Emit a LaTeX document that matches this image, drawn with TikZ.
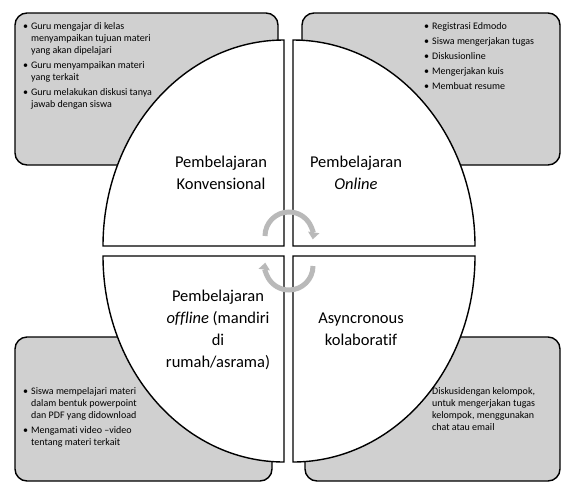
\documentclass[tikz,border=0pt]{standalone}
\usepackage{fontspec}
\setmainfont[Ligatures=NoCommon]{Carlito}
\usetikzlibrary{arrows.meta}
\definecolor{boxgray}{RGB}{208,208,208}
\definecolor{cycgray}{RGB}{185,185,185}
\begin{document}
\begin{tikzpicture}[x=1pt,y=-1pt,
  cornerbox/.style={draw=black,line width=1.4pt,fill=boxgray,rounded corners=12pt},
  quad/.style={draw=black,line width=1.4pt,fill=white},
  biglabel/.style={font=\fontsize{16.5}{22}\selectfont,align=center,inner sep=0pt},
  lst/.style={font=\fontsize{10}{12}\selectfont,inner sep=0pt,anchor=north west},
  cyc/.style={draw=cycgray,line width=5pt,-{Triangle[width=11pt,length=7pt]}}]
\useasboundingbox (0,0) rectangle (562,483);
\fill[white] (0,0) rectangle (562,483);
% corner boxes
\draw[cornerbox] (15,13) rectangle (278,165);
\draw[cornerbox] (302,13) rectangle (560,165);
\draw[cornerbox] (15,337) rectangle (272,481);
\draw[cornerbox] (305,337) rectangle (560,481);
% quadrants
\draw[quad] (284,246) -- (103,246) arc[start angle=180,end angle=270,x radius=181,y radius=206] -- cycle;
\draw[quad] (293,246) -- (293,40) arc[start angle=270,end angle=360,x radius=182,y radius=206] -- cycle;
\draw[quad] (284,256) -- (284,462) arc[start angle=90,end angle=180,x radius=181,y radius=206] -- cycle;
\draw[quad] (293,256) -- (475,256) arc[start angle=0,end angle=90,x radius=182,y radius=206] -- cycle;
% lists
\node[lst] (tltext) at (23,21) {\begin{tabular}{@{}l@{\hspace{3pt}}l@{}}
• & Guru mengajar di kelas\\
 & menyampaikan tujuan materi\\
 & yang akan dipelajari\\[3pt]
• & Guru menyampaikan materi\\
 & yang terkait\\[3pt]
• & Guru melakukan diskusi tanya\\
 & jawab dengan siswa
\end{tabular}};
\node[lst] (trtext) at (424,21) {\begin{tabular}{@{}l@{\hspace{3pt}}l@{}}
• & Registrasi Edmodo\\[3pt]
• & Siswa mengerjakan tugas\\[3pt]
• & Diskusionline\\[3pt]
• & Mengerjakan kuis\\[3pt]
• & Membuat resume
\end{tabular}};
\node[lst] (bltext) at (23,386) {\begin{tabular}{@{}l@{\hspace{3pt}}l@{}}
• & Siswa mempelajari materi\\
 & dalam bentuk powerpoint\\
 & dan PDF yang didownload\\[3pt]
• & Mengamati video –video\\
 & tentang materi terkait
\end{tabular}};
\node[lst] (brtext) at (432,386) {\begin{tabular}{@{}l@{}}
Diskusidengan kelompok,\\
untuk mengerjakan tugas\\
kelompok, menggunakan\\
chat atau email
\end{tabular}};
% labels
\node[biglabel] (tl) at (221,173) {Pembelajaran\\Konvensional};
\node[biglabel] (tr) at (356,173) {Pembelajaran\\\textit{Online}};
\node[biglabel] (bl) at (218,329.5) {Pembelajaran\\\textit{offline} (mandiri\\di\\rumah/asrama)};
\node[biglabel] (br) at (361,329) {Asyncronous\\kolaboratif};
% cycle arrows
\coordinate (ctop) at (289,236);
\coordinate (cbot) at (289,266);
\draw[cyc] (ctop) ++(180:24) arc[start angle=180,end angle=368,radius=24];
\draw[cyc] (cbot) ++(0:24) arc[start angle=0,end angle=188,radius=24];
\end{tikzpicture}
\end{document}
